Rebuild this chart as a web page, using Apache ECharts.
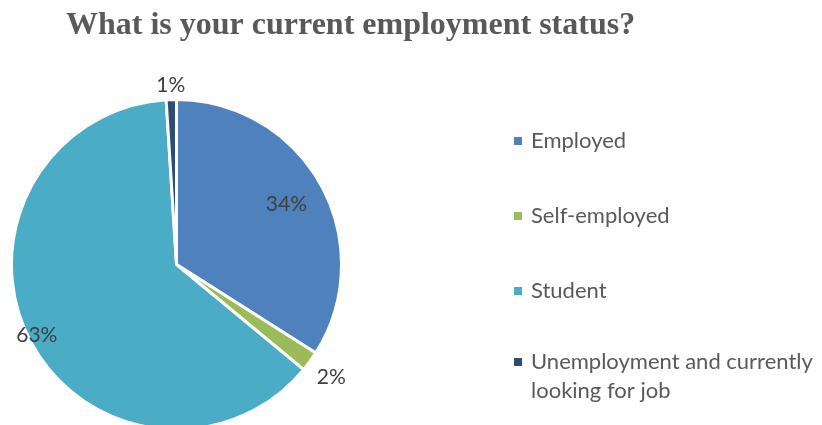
<!DOCTYPE html>
<html>
<head>
<meta charset="utf-8">
<script src="https://cdn.jsdelivr.net/npm/echarts@6/dist/echarts.min.js"></script>
<style>
html,body{margin:0;padding:0;background:#fff;}
#chart{width:822px;height:425px;}
</style>
</head>
<body>
<div id="chart"></div>
<script>
// ---- data ----
var titleText = 'What is your current employment status?';
var categories = ['Employed', 'Self-employed', 'Student', 'Unemployment and currently looking for job'];
var values = [34, 2, 63, 1];
var colors = ['#4F81BD', '#9BBB59', '#4BACC6', '#2C4D75'];
// label radial placement (fraction of pie radius), style only
var labelRadius = [0.76, 1.16, 0.95, 1.09];

var R = 165;           // pie radius (px)
var CX = 176.5, CY = 264.5;

var total = values.reduce(function (a, b) { return a + b; }, 0);
var cum = 0;
var pieData = values.map(function (v, i) {
  var mid = (cum + v / 2) / total * Math.PI * 2;
  cum += v;
  var dx = Math.sin(mid), dy = -Math.cos(mid);
  var shift = labelRadius[i] * R - (R / 2 + 3);
  return {
    name: categories[i],
    value: v,
    itemStyle: { color: colors[i] },
    label: { offset: [shift * dx, shift * dy] }
  };
});

var iconMid = 'path://M0,14.5h8v8h-8z M0,0h0.01 M12,37h0.01';
var iconTop = 'path://M0,0h8v8h-8z M0,0h0.01 M12,37h0.01';
function wrapName(n) { return n.replace('currently ', 'currently\n'); }

var chart = echarts.init(document.getElementById('chart'));
chart.setOption({
  animation: false,
  backgroundColor: '#ffffff',
  title: {
    text: titleText,
    left: 66,
    top: 10,
    padding: 0,
    textStyle: {
      fontFamily: '"Liberation Serif", "Times New Roman", serif',
      fontWeight: 'bold',
      fontSize: 32,
      color: '#595959'
    }
  },
  legend: {
    orient: 'vertical',
    left: 514,
    top: 122.5,
    padding: 0,
    itemGap: 38,
    itemWidth: 12,
    itemHeight: 37,
    itemStyle: { borderWidth: 0 },
    formatter: wrapName,
    data: categories.map(function (n) {
      return { name: n, icon: wrapName(n).indexOf('\n') >= 0 ? iconTop : iconMid };
    }),
    textStyle: {
      fontFamily: 'Lato, "Noto Sans", sans-serif',
      fontSize: 22,
      lineHeight: 29,
      color: '#595959'
    }
  },
  series: [{
    type: 'pie',
    center: [CX, CY],
    radius: [0, R],
    startAngle: 90,
    clockwise: true,
    silent: true,
    itemStyle: { borderColor: '#ffffff', borderWidth: 3 },
    label: {
      show: true,
      position: 'inside',
      formatter: '{c}%',
      fontFamily: 'Lato, "Noto Sans", sans-serif',
      fontSize: 21,
      color: '#404040'
    },
    labelLine: { show: false },
    data: pieData
  }]
});
</script>
</body>
</html>
